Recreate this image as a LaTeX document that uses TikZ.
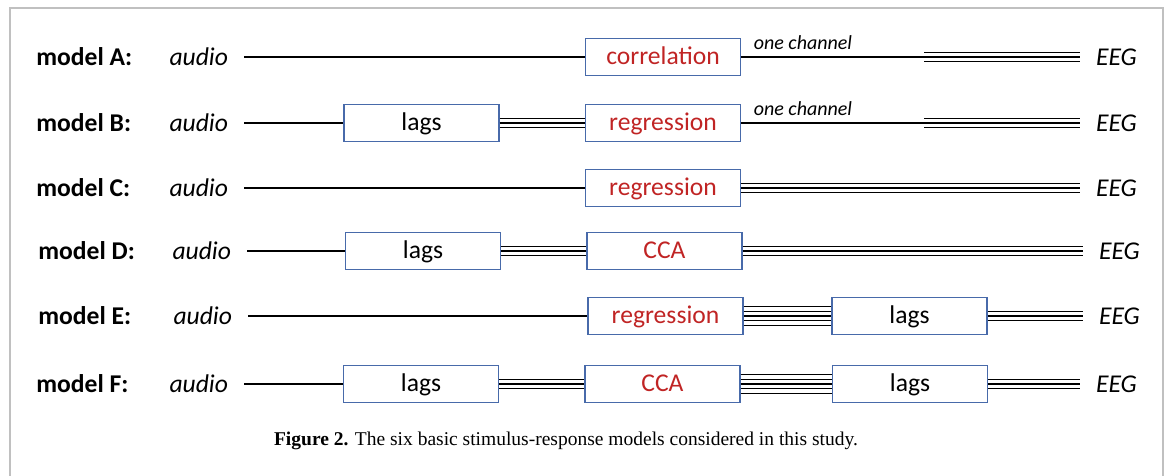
\documentclass[tikz,border=0pt]{standalone}
\usepackage{fontspec}
\setmainfont{Carlito}
\newfontfamily\captionfont{Liberation Serif}
\usetikzlibrary{positioning}
\definecolor{boxblue}{RGB}{72,106,170}
\definecolor{textred}{RGB}{192,36,36}
\definecolor{framegray}{RGB}{192,192,192}
\tikzset{
    modelname/.style={anchor=west, inner sep=0pt, font=\fontsize{12.8}{15}\selectfont\bfseries},
    signal/.style={inner sep=0pt, outer xsep=8pt, font=\fontsize{12.8}{15}\selectfont\itshape},
    stage/.style={draw=boxblue, line width=0.7pt, minimum width=77.5pt, minimum height=18.5pt,
        inner sep=0pt, text height=0.9em, text depth=0.12em, font=\fontsize{12.8}{15}\selectfont},
    method/.style={stage, text=textred},
    wire/.style={line width=0.6pt},
    channel/.style={anchor=south west, inner sep=0pt, xshift=6pt, yshift=3.5pt,
        font=\fontsize{10}{12}\selectfont\itshape}
}
% n parallel lines between two points
\newcommand{\wires}[3]{%
    \foreach \k [evaluate=\k as \off using (\k-(#1+1)/2)*2.35] in {1,...,#1}
        \draw[wire] ([yshift=\off pt]#2) -- ([yshift=\off pt]#3);
}

\begin{document}
\begin{tikzpicture}[x=0.5pt, y=-0.5pt]
    \useasboundingbox (0,0) rectangle (1166,476);
    \draw[framegray, line width=1pt] (9.5,476) -- (9.5,8.5) -- (1162.5,8.5) -- (1162.5,476);

    % model A
    \node[modelname] (nameA) at (36,57) {model A:};
    \node[signal, anchor=east] (inA) at (244,57) {audio};
    \node[method] (corrA) at (663,57) {correlation};
    \coordinate (jA) at (924,57);
    \node[signal, anchor=west] (outA) at (1080,57) {EEG};
    \draw[wire] (inA) -- (corrA);
    \draw[wire] (corrA) -- (jA) node[channel, pos=0] {one channel};
    \wires{3}{jA}{outA.west}

    % model B
    \node[modelname] (nameB) at (36,123) {model B:};
    \node[signal, anchor=east] (inB) at (244,123) {audio};
    \node[stage] (lagsB) at (421.5,123) {lags};
    \node[method] (regB) at (663,123) {regression};
    \coordinate (jB) at (924,123);
    \node[signal, anchor=west] (outB) at (1080,123) {EEG};
    \draw[wire] (inB) -- (lagsB);
    \wires{3}{lagsB.east}{regB.west}
    \draw[wire] (regB) -- (jB) node[channel, pos=0] {one channel};
    \wires{3}{jB}{outB.west}

    % model C
    \node[modelname] (nameC) at (36,188) {model C:};
    \node[signal, anchor=east] (inC) at (244,188) {audio};
    \node[method] (regC) at (663,188) {regression};
    \node[signal, anchor=west] (outC) at (1080,188) {EEG};
    \draw[wire] (inC) -- (regC);
    \wires{3}{regC.east}{outC.west}

    % model D
    \node[modelname] (nameD) at (38,251) {model D:};
    \node[signal, anchor=east] (inD) at (247,251) {audio};
    \node[stage] (lagsD) at (423,251) {lags};
    \node[method] (ccaD) at (664.5,251) {CCA};
    \node[signal, anchor=west] (outD) at (1083,251) {EEG};
    \draw[wire] (inD) -- (lagsD);
    \wires{3}{lagsD.east}{ccaD.west}
    \wires{3}{ccaD.east}{outD.west}

    % model E
    \node[modelname] (nameE) at (38,316) {model E:};
    \node[signal, anchor=east] (inE) at (248,316) {audio};
    \node[method] (regE) at (665.5,316) {regression};
    \node[stage] (lagsE) at (909.5,316) {lags};
    \node[signal, anchor=west] (outE) at (1083,316) {EEG};
    \draw[wire] (inE) -- (regE);
    \wires{5}{regE.east}{lagsE.west}
    \wires{3}{lagsE.east}{outE.west}

    % model F
    \node[modelname] (nameF) at (36,384) {model F:};
    \node[signal, anchor=east] (inF) at (244,384) {audio};
    \node[stage] (lagsF) at (421,384) {lags};
    \node[method] (ccaF) at (662.5,384) {CCA};
    \node[stage] (lagsFF) at (910,384) {lags};
    \node[signal, anchor=west] (outF) at (1080,384) {EEG};
    \draw[wire] (inF) -- (lagsF);
    \wires{3}{lagsF.east}{ccaF.west}
    \wires{5}{ccaF.east}{lagsFF.west}
    \wires{3}{lagsFF.east}{outF.west}

    \node[font=\captionfont\fontsize{9.75}{11}\selectfont] (caption) at (566,441)
        {\textbf{Figure 2.} The six basic stimulus-response models considered in this study.};
\end{tikzpicture}
\end{document}
